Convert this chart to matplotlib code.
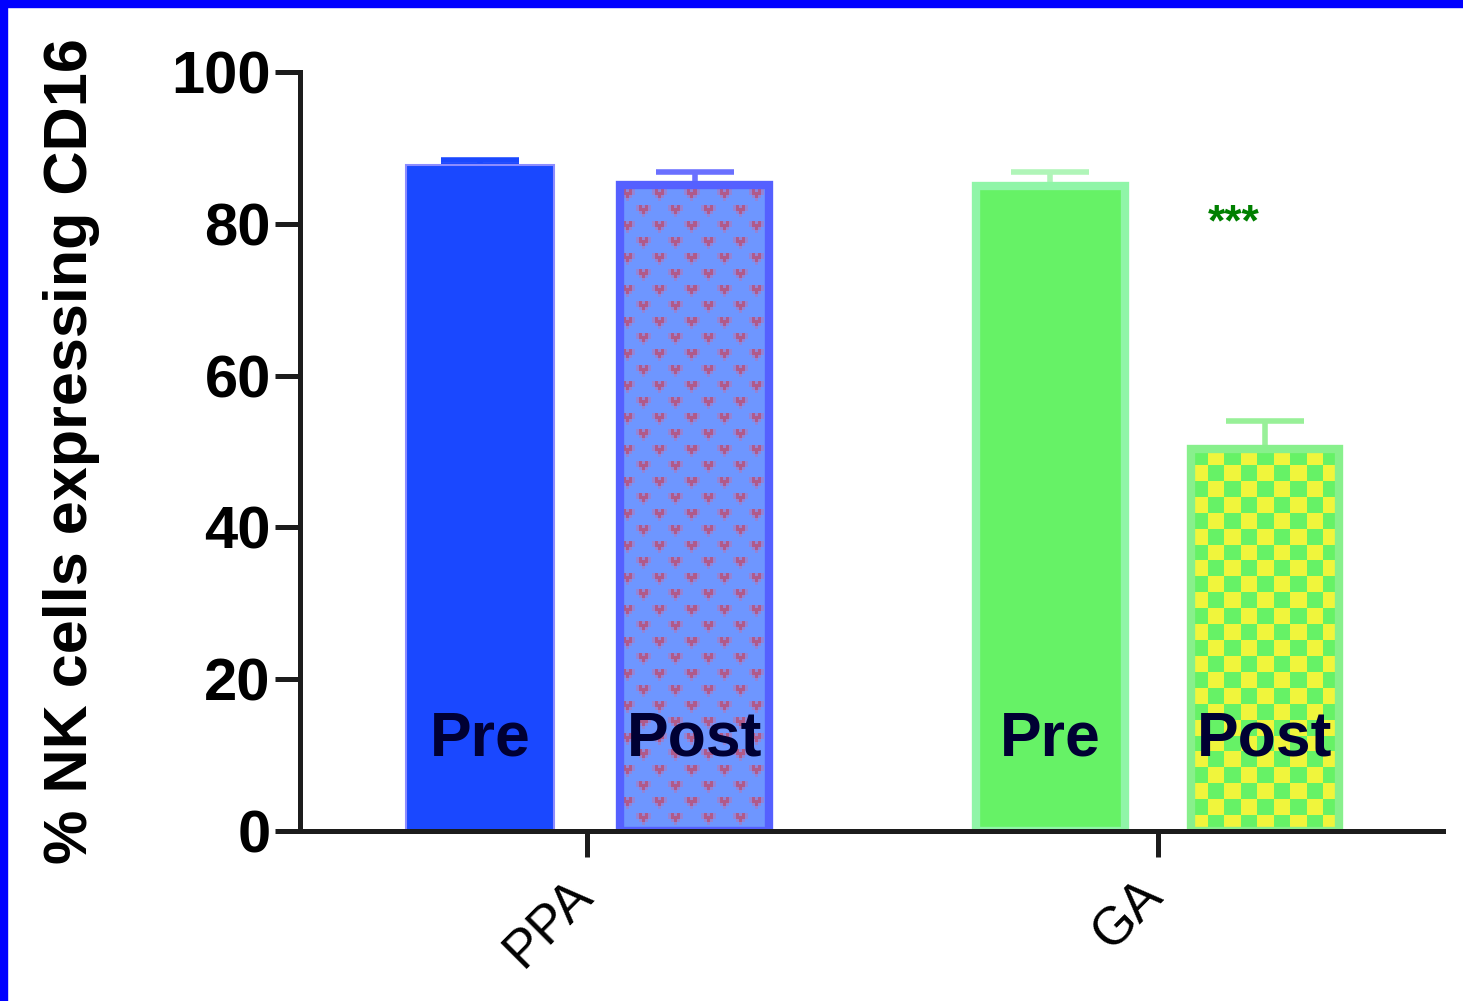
"""NK cells expressing CD16, pre vs post treatment, PPA and GA groups."""
import numpy as np
import matplotlib
matplotlib.use("Agg")
import matplotlib.pyplot as plt
from matplotlib.colors import ListedColormap, to_rgb
from matplotlib.patches import Rectangle
from matplotlib.transforms import ScaledTranslation

plt.rcParams["font.family"] = ["Liberation Sans", "DejaVu Sans"]

groups = ["PPA", "GA"]
conditions = ["Pre", "Post"]
means = [[87.7, 85.1], [85.0, 50.3]]   # [group][condition]
errors = [[0.7, 1.7], [1.8, 3.7]]
yticks = [0, 20, 40, 60, 80, 100]
ylabel = "% NK cells expressing CD16"
sig_label = "***"

# one style per bar, in drawing order (PPA pre, PPA post, GA pre, GA post)
bar_styles = [
    dict(face="#1A48FF", edge="#8C8CFF", lw=1.5, ecolor="#1A48FF", pattern=None),
    dict(face="#6E96FF", edge="#5560FF", lw=6, ecolor="#6A70FF", pattern="marks"),
    dict(face="#66F266", edge="#90F5A8", lw=6, ecolor="#B0F5B8", pattern=None),
    dict(face="#66F266", edge="#88F08C", lw=6, ecolor="#98F098", pattern="checker"),
]
offsets = [-0.188, 0.188]
width = 0.26
axis_color = "#1c1c1c"

fig = plt.figure(figsize=(14.63, 10.01), dpi=100)
ax = fig.add_axes([300 / 1463, 1 - 831 / 1001, 1143 / 1463, 759 / 1001])
ax.set_xlim(-0.5035, 1.5)
ax.set_ylim(0, 100)


def marks_texture(h, w):
    # light blue ground with small pink "v" marks, staggered rows
    img = np.empty((h, w, 3))
    img[:] = to_rgb("#6E96FF")
    core = np.array(to_rgb("#B05A8A"))
    halo = np.array(to_rgb("#9484D6"))
    shape = [[1, 2, 1, 2, 1], [1, 2, 2, 2, 1], [0, 1, 2, 1, 0], [0, 0, 1, 0, 0]]
    cell = 3
    for r0 in range(4, h, 16):
        shift = 0 if (r0 // 16) % 2 == 0 else 16
        for c0 in range(shift - 32, w, 32):
            for i, row in enumerate(shape):
                for j, v in enumerate(row):
                    rr, cc = r0 + cell * i, c0 + cell * j
                    if v == 0 or cc + cell <= 0 or rr >= h or cc >= w:
                        continue
                    img[rr:min(rr + cell, h), max(cc, 0):min(cc + cell, w)] = \
                        core if v == 2 else halo
    return img


k = 0
for gi, g in enumerate(groups):
    for ci, c in enumerate(conditions):
        st = bar_styles[k]
        x = gi + offsets[ci]
        m, e = means[gi][ci], errors[gi][ci]
        ax.errorbar(x, m, yerr=[[0], [e]], fmt="none", ecolor=st["ecolor"],
                    elinewidth=4, capsize=28, capthick=4, zorder=1.5)
        bar = ax.bar(x, m, width, color=st["face"], linewidth=0, zorder=2)[0]
        x0, bw, bh = bar.get_x(), bar.get_width(), bar.get_height()
        p0 = ax.transData.transform((x0, 0))
        p1 = ax.transData.transform((x0 + bw, bh))
        wpx, hpx = int(round(p1[0] - p0[0])), int(round(p1[1] - p0[1]))
        if st["pattern"] == "checker":
            nx = int(round(wpx / 16))
            ny = int(round(hpx / 16))
            cells = np.add.outer(np.arange(ny), np.arange(nx)) % 2
            im = ax.imshow(cells, cmap=ListedColormap(["#F0F53C", "#66F266"]),
                           extent=(x0, x0 + bw, 0, bh), origin="lower",
                           aspect="auto", interpolation="nearest", zorder=2.1)
            im.set_clip_path(bar)
        elif st["pattern"] == "marks":
            im = ax.imshow(marks_texture(hpx, wpx), extent=(x0, x0 + bw, 0, bh),
                           origin="upper", aspect="auto",
                           interpolation="nearest", zorder=2.1)
            im.set_clip_path(bar)
        ax.bar(x, m, width, fill=False, edgecolor=st["edge"],
               linewidth=st["lw"], zorder=2.2)
        ax.text(x, 10, c, ha="center", va="baseline", fontsize=45,
                fontweight="bold", color="#000033", zorder=3)
        k += 1

# significance marker above GA post
ax.text(1 + offsets[1] - 0.055, 80, sig_label, ha="center", va="center",
        fontsize=32, fontweight="bold", color="#008000")

ax.set_xlim(-0.5035, 1.5)
ax.set_ylim(0, 100)

for s in ["top", "right"]:
    ax.spines[s].set_visible(False)
for s in ["left", "bottom"]:
    ax.spines[s].set_linewidth(3.6)
    ax.spines[s].set_color(axis_color)

ax.set_yticks(yticks)
ax.set_yticklabels([str(t) for t in yticks], fontsize=43, fontweight="bold")
ax.tick_params(axis="y", length=18, width=3.6, color=axis_color, pad=3)

ax.set_xticks(range(len(groups)))
ax.set_xticklabels(groups, fontsize=38, rotation=45, ha="right")
ax.tick_params(axis="x", length=19, width=3.6, color=axis_color, pad=9)
for lab in ax.get_xticklabels():
    lab.set_transform(lab.get_transform() + ScaledTranslation(0.15, 0, fig.dpi_scale_trans))

ax.set_ylabel(ylabel, fontsize=44, fontweight="bold")
ax.yaxis.set_label_coords(-0.175, 0.5)

# blue frame strips on the left and top edges
fig.patches.append(Rectangle((0, 0), 7 / 1463, 1, transform=fig.transFigure,
                             color="#0000FF", zorder=10))
fig.patches.append(Rectangle((0, 1 - 7 / 1001), 1, 7 / 1001, transform=fig.transFigure,
                             color="#0000FF", zorder=10))

fig.savefig("out.png", dpi=100)
